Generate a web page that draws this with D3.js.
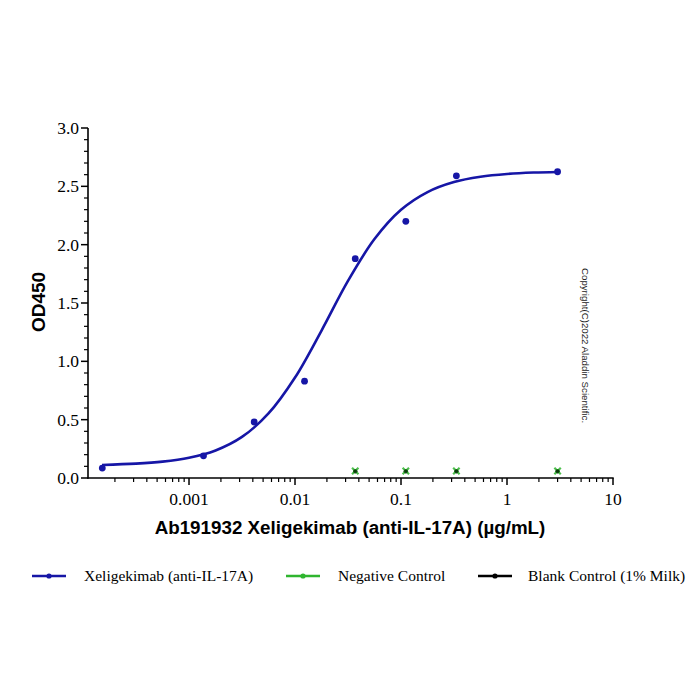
<!DOCTYPE html>
<html><head><meta charset="utf-8">
<script src="https://cdn.jsdelivr.net/npm/d3@7"></script>
<style>body{margin:0;background:#fff}svg{display:block}</style>
</head><body>
<svg id="chart" width="700" height="700"></svg>
<script>
// Xeligekimab measured points (µg/mL, OD450)
const conc = [0.000152, 0.00137, 0.00412, 0.0123, 0.037, 0.111, 0.333, 3];
const od = [0.085, 0.19, 0.48, 0.83, 1.88, 2.20, 2.59, 2.625];
// Fitted curve
const curveConc = [0.000151, 0.000316, 0.000562, 0.001, 0.00178, 0.00316, 0.00562, 0.01, 0.0178, 0.0316, 0.0562, 0.1, 0.178, 0.316, 0.562, 1, 1.78, 3];
const curveOd = [0.112, 0.123, 0.140, 0.173, 0.236, 0.352, 0.553, 0.861, 1.264, 1.689, 2.048, 2.299, 2.451, 2.537, 2.582, 2.606, 2.618, 2.623];
// Controls
const ctrlConc = [0.037, 0.111, 0.333, 3];
const negOd = [0.06, 0.06, 0.06, 0.06];
const blankOd = [0.058, 0.058, 0.058, 0.058];
const xTicks = [0.001, 0.01, 0.1, 1, 10];
const xTickLabels = ["0.001", "0.01", "0.1", "1", "10"];
const yTicks = [0, 0.5, 1.0, 1.5, 2.0, 2.5, 3.0];
const seriesNames = ["Xeligekimab (anti-IL-17A)", "Negative Control", "Blank Control (1% Milk)"];
const xTitle = "Ab191932 Xeligekimab (anti-IL-17A) (µg/mL)";
const yTitle = "OD450";

const serif = "'Liberation Serif', 'Times New Roman', Times, serif";
const sans = "'Liberation Sans', Arial, Helvetica, sans-serif";
const svg = d3.select("#chart");
const x = d3.scaleLog().domain([Math.pow(10, -3.953), 10]).range([88, 613]);
const y = d3.scaleLinear().domain([0, 3]).range([478, 128]);
const blue = "#1616a6", green = "#2fb52f";

// minor ticks
const xMinor = [];
for (let e = -4; e < 1; e++) for (let m = 2; m <= 9; m++) { const v = m * Math.pow(10, e); if (v >= x.domain()[0] && v < 10) xMinor.push(v); }
const yMinor = d3.range(0, 31).map(d => d / 10).filter(d => Math.round(d * 10) % 5 !== 0);

const g = svg.append("g");
g.selectAll(".xm").data(xMinor).join("line").attr("x1", d => x(d)).attr("x2", d => x(d)).attr("y1", 478).attr("y2", 482).attr("stroke", "#000").attr("stroke-width", 1.2);
g.selectAll(".xM").data(xTicks).join("line").attr("x1", d => x(d)).attr("x2", d => x(d)).attr("y1", 478).attr("y2", 485).attr("stroke", "#000").attr("stroke-width", 1.5);
g.selectAll(".ym").data(yMinor).join("line").attr("x1", 84).attr("x2", 88).attr("y1", d => y(d)).attr("y2", d => y(d)).attr("stroke", "#000").attr("stroke-width", 1.2);
g.selectAll(".yM").data(yTicks).join("line").attr("x1", 81).attr("x2", 88).attr("y1", d => y(d)).attr("y2", d => y(d)).attr("stroke", "#000").attr("stroke-width", 1.5);
g.append("line").attr("x1", 88).attr("x2", 88).attr("y1", 128).attr("y2", 478.7).attr("stroke", "#000").attr("stroke-width", 1.6);
g.append("line").attr("x1", 87.3).attr("x2", 613.7).attr("y1", 478).attr("y2", 478).attr("stroke", "#000").attr("stroke-width", 1.6);

g.selectAll(".yl").data(yTicks).join("text").attr("x", 79).attr("y", d => y(d) + 6)
  .attr("text-anchor", "end").style("font-family", serif).attr("font-size", 17.5).text(d => d.toFixed(1));
g.selectAll(".xl").data(xTicks).join("text").attr("x", d => x(d)).attr("y", 505)
  .attr("text-anchor", "middle").style("font-family", serif).attr("font-size", 17.5).text((d, i) => xTickLabels[i]);

svg.append("text").attr("x", 350).attr("y", 534).attr("text-anchor", "middle")
  .style("font-family", sans).attr("font-weight", "bold").attr("font-size", 18.8).text(xTitle);
svg.append("text").attr("transform", "translate(45,302) rotate(-90)").attr("text-anchor", "middle")
  .style("font-family", sans).attr("font-weight", "bold").attr("font-size", 19).text(yTitle);

// curve
const line = d3.line().x((d, i) => x(curveConc[i])).y(d => y(d)).curve(d3.curveCatmullRom);
svg.append("path").attr("d", line(curveOd)).attr("fill", "none").attr("stroke", blue).attr("stroke-width", 2.6);
svg.selectAll(".pt").data(od).join("circle").attr("cx", (d, i) => x(conc[i])).attr("cy", d => y(d)).attr("r", 3.4).attr("fill", blue);

// controls
const xMark = (cx, cy, s) => `M${cx - s},${cy - s}L${cx + s},${cy + s}M${cx - s},${cy + s}L${cx + s},${cy - s}`;
svg.selectAll(".bk").data(blankOd).join("circle").attr("cx", (d, i) => x(ctrlConc[i])).attr("cy", d => y(d)).attr("r", 2.2).attr("fill", "#000");
svg.selectAll(".ng").data(negOd).join("path").attr("d", (d, i) => xMark(x(ctrlConc[i]), y(d), 3.2))
  .attr("stroke", green).attr("stroke-width", 2.2).attr("fill", "none").attr("opacity", 0.85);
svg.selectAll(".bk2").data(blankOd).join("rect").attr("x", (d, i) => x(ctrlConc[i]) - 1.5).attr("y", d => y(d) - 1.5).attr("width", 3).attr("height", 3).attr("fill", "#0a3a0a");

// copyright
svg.append("text").attr("transform", "translate(582,268) rotate(90)").style("font-family", sans)
  .attr("font-size", 9.7).attr("fill", "#222").text("Copyright(C)2022 Aladdin Scientific.");

// legend
const legX = [32, 286, 478], legText = [84, 338, 528], legCol = [blue, green, "#000"];
const leg = svg.selectAll(".leg").data(seriesNames).join("g");
leg.append("line").attr("x1", (d, i) => legX[i]).attr("x2", (d, i) => legX[i] + 34).attr("y1", 576).attr("y2", 576)
  .attr("stroke", (d, i) => legCol[i]).attr("stroke-width", 2.6);
leg.append("circle").attr("cx", (d, i) => legX[i] + 17).attr("cy", 576).attr("r", 2.6).attr("fill", (d, i) => legCol[i]);
leg.append("text").attr("x", (d, i) => legText[i]).attr("y", 581).style("font-family", serif).attr("font-size", 15.5).text(d => d);
</script>
</body></html>
